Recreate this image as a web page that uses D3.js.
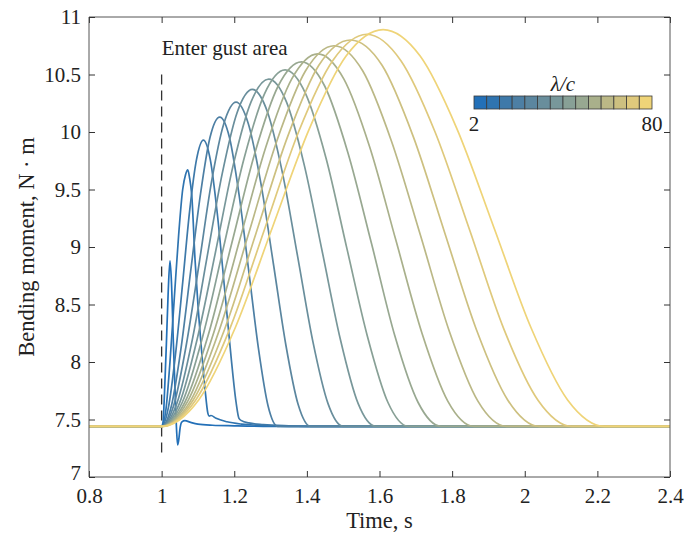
<!DOCTYPE html>
<html>
<head>
<meta charset="utf-8">
<script src="https://cdn.jsdelivr.net/npm/d3@7"></script>
<style>
  body { margin: 0; background: #fff; }
  text { font-family: "Liberation Serif", "Times New Roman", serif; fill: #222; }
</style>
</head>
<body>
<svg id="chart" width="688" height="536"></svg>
<script>
// Gust wavelength ratios, one response curve per value
const lambdaValues = [2, 8, 14, 20, 26, 32, 38, 44, 50, 56, 62, 68, 74, 80];
const xTicks = [0.8, 1, 1.2, 1.4, 1.6, 1.8, 2, 2.2, 2.4];
const yTicks = [7, 7.5, 8, 8.5, 9, 9.5, 10, 10.5, 11];
const colorbarTicks = [2, 80];
const gustEntryTime = 1.0;
const gustMarkerRange = [7.2, 10.5];

// Root bending moment histories [time s, moment N·m]
const m02 = [[0.8,7.44],[1.0,7.44],[1.004,7.48],[1.008,7.74],[1.013,8.15],[1.018,8.60],[1.023,8.88],[1.027,8.70],[1.032,8.20],[1.037,7.75],[1.041,7.42],[1.044,7.28],[1.047,7.32],[1.051,7.43],[1.056,7.48],[1.064,7.49],[1.08,7.475],[1.10,7.46],[1.14,7.45],[1.2,7.445],[1.3,7.44],[2.4,7.44]];
const m08 = [[0.8,7.44],[1.0,7.44],[1.012,7.59],[1.023,8.00],[1.035,8.56],[1.047,9.11],[1.058,9.50],[1.066,9.63],[1.072,9.67],[1.077,9.60],[1.083,9.45],[1.092,8.89],[1.10,8.50],[1.11,8.10],[1.12,7.75],[1.127,7.56],[1.131,7.53],[1.136,7.535],[1.15,7.51],[1.18,7.48],[1.22,7.46],[1.30,7.445],[1.40,7.44],[2.4,7.44]];
const m14 = [[0.8,7.44],[1.0,7.44],[1.019,7.61],[1.038,8.06],[1.058,8.69],[1.077,9.31],[1.096,9.76],[1.115,9.93],[1.134,9.76],[1.153,9.30],[1.173,8.65],[1.192,8.02],[1.205,7.65],[1.213,7.51],[1.220,7.49],[1.24,7.47],[1.28,7.455],[1.35,7.445],[1.45,7.44],[2.4,7.44]];
const m20 = [[0.8,7.44],[1.000,7.44],[1.027,7.62],[1.053,8.11],[1.080,8.79],[1.107,9.46],[1.133,9.95],[1.160,10.13],[1.187,9.95],[1.213,9.46],[1.240,8.79],[1.267,8.11],[1.293,7.62],[1.320,7.44],[2.4,7.44]];
const m26 = [[0.8,7.44],[1.000,7.44],[1.034,7.63],[1.068,8.15],[1.103,8.85],[1.137,9.56],[1.171,10.07],[1.205,10.26],[1.239,10.07],[1.273,9.56],[1.308,8.85],[1.342,8.15],[1.376,7.63],[1.410,7.44],[2.4,7.44]];
const m32 = [[0.8,7.44],[1.000,7.44],[1.042,7.64],[1.083,8.17],[1.125,8.91],[1.167,9.64],[1.208,10.17],[1.250,10.37],[1.292,10.17],[1.333,9.64],[1.375,8.91],[1.417,8.17],[1.458,7.64],[1.500,7.44],[2.4,7.44]];
const m38 = [[0.8,7.44],[1.000,7.44],[1.049,7.64],[1.098,8.20],[1.148,8.95],[1.197,9.71],[1.246,10.26],[1.295,10.46],[1.344,10.26],[1.393,9.71],[1.443,8.95],[1.492,8.20],[1.541,7.64],[1.590,7.44],[2.4,7.44]];
const m44 = [[0.8,7.44],[1.000,7.44],[1.057,7.65],[1.113,8.22],[1.170,8.99],[1.227,9.77],[1.283,10.33],[1.340,10.54],[1.397,10.33],[1.453,9.77],[1.510,8.99],[1.567,8.22],[1.623,7.65],[1.680,7.44],[2.4,7.44]];
const m50 = [[0.8,7.44],[1.000,7.44],[1.064,7.65],[1.128,8.23],[1.193,9.03],[1.257,9.82],[1.321,10.40],[1.385,10.61],[1.449,10.40],[1.513,9.82],[1.578,9.03],[1.642,8.23],[1.706,7.65],[1.770,7.44],[2.4,7.44]];
const m56 = [[0.8,7.44],[1.000,7.44],[1.072,7.66],[1.143,8.25],[1.215,9.06],[1.287,9.87],[1.358,10.46],[1.430,10.68],[1.502,10.46],[1.573,9.87],[1.645,9.06],[1.717,8.25],[1.788,7.66],[1.860,7.44],[2.4,7.44]];
const m62 = [[0.8,7.44],[1.000,7.44],[1.079,7.66],[1.158,8.27],[1.238,9.10],[1.317,9.92],[1.396,10.53],[1.475,10.75],[1.554,10.53],[1.633,9.92],[1.713,9.10],[1.792,8.27],[1.871,7.66],[1.950,7.44],[2.4,7.44]];
const m68 = [[0.8,7.44],[1.000,7.44],[1.087,7.67],[1.173,8.28],[1.260,9.12],[1.347,9.96],[1.433,10.58],[1.520,10.80],[1.607,10.58],[1.693,9.96],[1.780,9.12],[1.867,8.28],[1.953,7.67],[2.040,7.44],[2.4,7.44]];
const m74 = [[0.8,7.44],[1.000,7.44],[1.094,7.67],[1.188,8.29],[1.283,9.15],[1.377,10.00],[1.471,10.62],[1.565,10.85],[1.659,10.62],[1.753,10.00],[1.848,9.15],[1.942,8.29],[2.036,7.67],[2.130,7.44],[2.4,7.44]];
const m80 = [[0.8,7.44],[1.000,7.44],[1.102,7.67],[1.203,8.30],[1.305,9.17],[1.407,10.03],[1.508,10.66],[1.610,10.89],[1.712,10.66],[1.813,10.03],[1.915,9.17],[2.017,8.30],[2.118,7.67],[2.220,7.44],[2.4,7.44]];

const histories = [m02, m08, m14, m20, m26, m32, m38, m44, m50, m56, m62, m68, m74, m80];

// Blue-to-yellow colormap, one entry per wavelength
const palette = ["#2370b8","#2f74b0","#3e79a9","#4d7fa4","#5b869f","#698e9c","#78979a",
                 "#88a096","#98a891","#a9b08b","#bbb886","#cdc080","#dfc97c","#efd478"];

const svg = d3.select("#chart");
const plot = { left: 89, right: 670, top: 17, bottom: 477 };
const tickFont = 21;
const titleFont = 22.5;

const x = d3.scaleLinear().domain([0.8, 2.4]).range([plot.left, plot.right]);
const y = d3.scaleLinear().domain([7, 11]).range([plot.bottom, plot.top]);
const color = d3.scaleOrdinal().domain(lambdaValues).range(palette);

svg.append("defs").append("clipPath").attr("id", "plotClip")
  .append("rect")
  .attr("x", plot.left).attr("y", plot.top)
  .attr("width", plot.right - plot.left).attr("height", plot.bottom - plot.top);

// Gust entry marker
svg.append("line")
  .attr("x1", x(gustEntryTime)).attr("x2", x(gustEntryTime))
  .attr("y1", y(gustMarkerRange[1])).attr("y2", y(gustMarkerRange[0]))
  .attr("stroke", "#333").attr("stroke-width", 1.3)
  .attr("stroke-dasharray", "10,6");

svg.append("text")
  .attr("x", x(gustEntryTime)).attr("y", 55)
  .attr("font-size", tickFont)
  .text("Enter gust area");

// Response curves
const line = d3.line()
  .x(d => x(d[0]))
  .y(d => y(d[1]))
  .curve(d3.curveMonotoneX);

svg.append("g").attr("clip-path", "url(#plotClip)")
  .selectAll("path")
  .data(histories)
  .join("path")
  .attr("d", line)
  .attr("fill", "none")
  .attr("stroke", (d, i) => color(lambdaValues[i]))
  .attr("stroke-width", 1.7)
  .attr("stroke-linejoin", "round");

// Axes with inward ticks on all four sides
const tickLen = 6;
const axisColor = "#555";
const xb = svg.append("g").attr("transform", `translate(0,${plot.bottom})`)
  .call(d3.axisBottom(x).tickValues(xTicks).tickSize(-tickLen).tickPadding(11).tickFormat(d3.format("")));
const xt = svg.append("g").attr("transform", `translate(0,${plot.top})`)
  .call(d3.axisTop(x).tickValues(xTicks).tickSize(-tickLen).tickFormat(""));
const yl = svg.append("g").attr("transform", `translate(${plot.left},0)`)
  .call(d3.axisLeft(y).tickValues(yTicks).tickSize(-tickLen).tickPadding(8).tickFormat(d3.format("")));
const yr = svg.append("g").attr("transform", `translate(${plot.right},0)`)
  .call(d3.axisRight(y).tickValues(yTicks).tickSize(-tickLen).tickFormat(""));

[xb, xt, yl, yr].forEach(g => {
  g.selectAll(".domain").attr("stroke", axisColor).attr("stroke-width", 1);
  g.selectAll(".tick line").attr("stroke", "#333").attr("stroke-width", 1);
  g.selectAll("text").attr("font-size", tickFont);
});
// lowest y label sits a little higher, clear of the first time label
yl.selectAll(".tick").filter(d => d === yTicks[0]).select("text").attr("y", -4);

// frame outline only along the plot edges
[xb, xt].forEach(g => g.select(".domain").attr("d", `M${plot.left},0H${plot.right}`));
[yl, yr].forEach(g => g.select(".domain").attr("d", `M0,${plot.top}V${plot.bottom}`));

// Axis titles
svg.append("text")
  .attr("x", (plot.left + plot.right) / 2).attr("y", 528)
  .attr("text-anchor", "middle").attr("font-size", titleFont)
  .text("Time, s");

svg.append("text")
  .attr("transform", `translate(34,${(plot.top + plot.bottom) / 2}) rotate(-90)`)
  .attr("text-anchor", "middle").attr("font-size", titleFont)
  .text("Bending moment, N \u00b7 m");

// Colorbar legend
const bar = { x0: 474, x1: 652, y0: 96, y1: 109 };
const cellW = (bar.x1 - bar.x0) / lambdaValues.length;
const cb = svg.append("g");
cb.selectAll("rect")
  .data(lambdaValues)
  .join("rect")
  .attr("x", (d, i) => bar.x0 + i * cellW)
  .attr("y", bar.y0)
  .attr("width", cellW).attr("height", bar.y1 - bar.y0)
  .attr("fill", d => color(d))
  .attr("stroke", "#3a3a3a").attr("stroke-width", 0.8);

cb.append("text")
  .attr("x", (bar.x0 + bar.x1) / 2).attr("y", 91)
  .attr("text-anchor", "middle").attr("font-size", tickFont).attr("font-style", "italic")
  .text("λ/c");

cb.selectAll("text.cbtick")
  .data(colorbarTicks)
  .join("text")
  .attr("class", "cbtick")
  .attr("x", (d, i) => i === 0 ? bar.x0 : bar.x1)
  .attr("y", 131)
  .attr("text-anchor", "middle").attr("font-size", tickFont)
  .text(d => d);
</script>
</body>
</html>
